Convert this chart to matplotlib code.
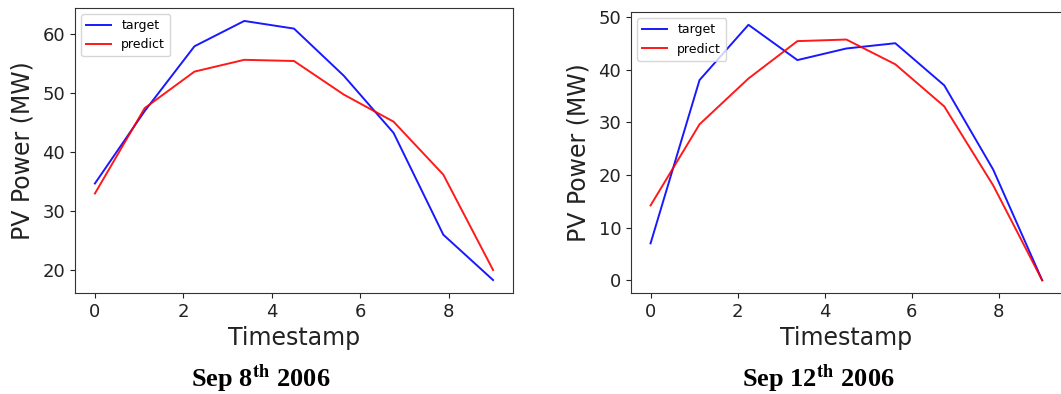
import matplotlib
matplotlib.use("Agg")
import matplotlib.pyplot as plt

# timestamps (9 samples over 0..9)
timestamps = [0, 1.125, 2.25, 3.375, 4.5, 5.625, 6.75, 7.875, 9]

# Sep 8th 2006
target_sep8 = [34.7, 47.0, 58.0, 62.3, 61.0, 53.0, 43.3, 26.0, 18.3]
predict_sep8 = [33.0, 47.5, 53.7, 55.7, 55.5, 49.8, 45.2, 36.2, 20.0]

# Sep 12th 2006
target_sep12 = [7.0, 38.0, 48.5, 41.8, 44.0, 45.0, 37.0, 21.0, 0.0]
predict_sep12 = [14.2, 29.6, 38.3, 45.4, 45.7, 41.0, 33.0, 18.0, 0.0]

captions = [r"Sep 8$^{\mathbf{th}}$ 2006", r"Sep 12$^{\mathbf{th}}$ 2006"]

plt.rcParams["mathtext.fontset"] = "stix"

fig = plt.figure(figsize=(10.61, 3.94), dpi=100)
ax1 = fig.add_axes([0.0707, 0.2563, 0.4128, 0.7234])
ax2 = fig.add_axes([0.5947, 0.2563, 0.4060, 0.7132])

panels = [(ax1, target_sep8, predict_sep8), (ax2, target_sep12, predict_sep12)]
for i, (ax, tgt, pred) in enumerate(panels):
    ax.plot(timestamps, tgt, color="blue", lw=1.4, alpha=0.9, label="target")
    ax.plot(timestamps, pred, color="red", lw=1.4, alpha=0.9, label="predict")
    ax.set_xticks([0, 2, 4, 6, 8])
    ax.tick_params(labelsize=13, colors="#222222")
    ax.set_xlabel("Timestamp", fontsize=17, color="#222222")
    ax.set_ylabel("PV Power (MW)", fontsize=17, color="#222222", labelpad=6)
    ax.legend(loc="upper left", fontsize=9)
    for s in ax.spines.values():
        s.set_color("#333333")

# captions under each panel
fig.text(0.2455, 0.04, captions[0], ha="center", va="center",
         fontsize=19, fontweight="bold", family="Liberation Serif")
fig.text(0.771, 0.04, captions[1], ha="center", va="center",
         fontsize=19, fontweight="bold", family="Liberation Serif")

fig.savefig("out.png", dpi=100)
